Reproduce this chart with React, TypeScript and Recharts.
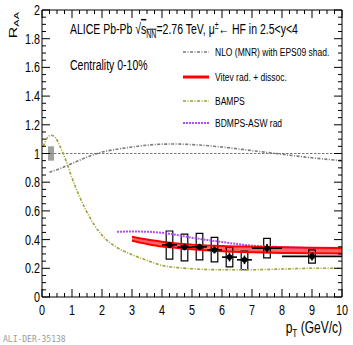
import React from 'react';
import {
  ComposedChart,
  Line,
  Area,
  Scatter,
  ErrorBar,
  XAxis,
  YAxis,
  ReferenceArea,
  ReferenceLine,
} from 'recharts';

// data
const xMajorTicks = [0, 1, 2, 3, 4, 5, 6, 7, 8, 9, 10];
const yMajorTicks = [0, 0.2, 0.4, 0.6, 0.8, 1, 1.2, 1.4, 1.6, 1.8, 2];

const dataPt = [4.25, 4.75, 5.25, 5.75, 6.25, 6.75, 7.5, 9];
const dataRaa = [0.363, 0.347, 0.349, 0.328, 0.278, 0.259, 0.34, 0.283];
const dataPtErr = [0.25, 0.25, 0.25, 0.25, 0.25, 0.25, 0.5, 1];
const dataStatErr = [0.02, 0.022, 0.022, 0.025, 0.03, 0.03, 0.03, 0.028];
const dataSysLow = [0.264, 0.252, 0.259, 0.245, 0.21, 0.19, 0.273, 0.236];
const dataSysHigh = [0.46, 0.438, 0.444, 0.415, 0.347, 0.32, 0.408, 0.328];

const normPt = 0.3;
const normLow = 0.95;
const normHigh = 1.05;

const nloPt = [0.25, 0.6, 1.0, 1.5, 2.0, 2.5, 3.0, 3.5, 4.0, 4.5, 5.0, 6.0, 7.0, 8.0, 9.0, 10];
const nloRaa = [0.87, 0.895, 0.93, 0.975, 1.01, 1.03, 1.045, 1.058, 1.065, 1.066, 1.062, 1.045, 1.02, 0.995, 0.97, 0.95];

const bampsPt = [0.05, 0.15, 0.3, 0.45, 0.6, 0.8, 1.0, 1.25, 1.5, 1.75, 2.0, 2.5, 3.0, 3.5, 4.0, 4.5, 5, 6, 7, 8, 9, 10];
const bampsRaa = [1.05, 1.1, 1.127, 1.11, 1.05, 0.95, 0.83, 0.7, 0.59, 0.5, 0.43, 0.345, 0.295, 0.255, 0.22, 0.205, 0.197, 0.19, 0.19, 0.195, 0.2, 0.2];

const bdmpsPt = [2.5, 3, 3.5, 4, 4.5, 5, 5.5, 6, 7, 8, 9, 10];
const bdmpsRaa = [0.455, 0.456, 0.455, 0.447, 0.432, 0.413, 0.398, 0.383, 0.358, 0.348, 0.34, 0.333];

const vitevPt = [3, 3.5, 4, 4.5, 5, 6, 7, 8, 9, 10];
const vitevLow = [0.392, 0.37, 0.352, 0.342, 0.333, 0.318, 0.311, 0.307, 0.305, 0.304];
const vitevHigh = [0.42, 0.4, 0.385, 0.373, 0.365, 0.355, 0.35, 0.346, 0.343, 0.341];

// series tables
const toXY = (xs: number[], ys: number[]) => xs.map((x, i) => ({ x, y: ys[i] }));
const nloData = toXY(nloPt, nloRaa);
const bampsData = toXY(bampsPt, bampsRaa);
const bdmpsData = toXY(bdmpsPt, bdmpsRaa);
const vitevData = vitevPt.map((x, i) => ({
  x,
  lo: vitevLow[i],
  hi: vitevHigh[i],
  range: [vitevLow[i], vitevHigh[i]],
}));
const pointData = dataPt.map((x, i) => ({
  x,
  y: dataRaa[i],
  ex: dataPtErr[i],
  ey: dataStatErr[i],
}));

const SYS_HALF = 0.11;

// tick lists with ROOT-like minor divisions
const subdivide = (majors: number[], n: number) => {
  const out: number[] = [];
  for (let i = 0; i < majors.length - 1; i++) {
    const step = (majors[i + 1] - majors[i]) / n;
    for (let k = 0; k < n; k++) out.push(+(majors[i] + k * step).toFixed(4));
  }
  out.push(majors[majors.length - 1]);
  return out;
};
const xTicks = subdivide(xMajorTicks, 4);
const yTicks = subdivide(yMajorTicks, 4);

const FONT = '"Liberation Sans", Arial, Helvetica, sans-serif';
const isMajor = (v: number, list: number[]) => list.some((m) => Math.abs(m - v) < 1e-6);
const fmt = (v: number) => String(Number(v.toFixed(2)));

const SText = ({ x, y, size, anchor = 'start', sx = 0.72, fill = '#000', children }: any) => (
  <text
    transform={`translate(${x},${y}) scale(${sx},1)`}
    fontSize={size}
    textAnchor={anchor}
    fontFamily={FONT}
    fill={fill}
  >
    {children}
  </text>
);

const BottomTick = (p: any) => {
  const v = p.payload.value;
  const major = isMajor(v, xMajorTicks);
  return (
    <g>
      <line x1={p.x} x2={p.x} y1={p.y} y2={p.y - (major ? 8 : 4)} stroke="#000" />
      {major && (
        <SText x={p.x} y={p.y + 18} size={15} anchor="middle">
          {fmt(v)}
        </SText>
      )}
    </g>
  );
};

const TopTick = (p: any) => {
  const major = isMajor(p.payload.value, xMajorTicks);
  return <line x1={p.x} x2={p.x} y1={p.y} y2={p.y + (major ? 8 : 4)} stroke="#000" />;
};

const LeftTick = (p: any) => {
  const v = p.payload.value;
  const major = isMajor(v, yMajorTicks);
  return (
    <g>
      <line x1={p.x} x2={p.x + (major ? 8 : 4)} y1={p.y} y2={p.y} stroke="#000" />
      {major && (
        <SText x={p.x - 2} y={p.y + 5} size={15} anchor="end">
          {fmt(v)}
        </SText>
      )}
    </g>
  );
};

const RightTick = (p: any) => {
  const major = isMajor(p.payload.value, yMajorTicks);
  return <line x1={p.x} x2={p.x - (major ? 8 : 4)} y1={p.y} y2={p.y} stroke="#000" />;
};

const NLO_COLOR = '#7a7a7a';
const BAMPS_COLOR = '#a0a030';
const BDMPS_COLOR = '#b24cff';
const VITEV_COLOR = '#ff0000';

const legendRows = [
  { label: 'NLO (MNR) with EPS09 shad.', color: NLO_COLOR, dash: '3 1.5 1 1.5', width: 1.5, y: 52 },
  { label: 'Vitev rad. + dissoc.', color: VITEV_COLOR, dash: undefined, width: 3, y: 77 },
  { label: 'BAMPS', color: BAMPS_COLOR, dash: '3 1.5 1 1.5', width: 1.5, y: 101 },
  { label: 'BDMPS-ASW rad', color: BDMPS_COLOR, dash: '2 1', width: 2, y: 123 },
];

const Overlay = () => (
  <svg
    width={353}
    height={345}
    style={{ position: 'absolute', left: 0, top: 0, pointerEvents: 'none' }}
  >
    {/* header */}
    <text transform="translate(70,34) scale(0.7,1)" fontSize={15} fontFamily={FONT} fill="#000">
      ALICE Pb-Pb √
      <tspan style={{ textDecoration: 'overline' }}>s</tspan>
      <tspan fontSize={10} dy={4} style={{ textDecoration: 'overline' }}>NN</tspan>
      <tspan dy={-4}>=2.76 TeV, μ</tspan>
      <tspan fontSize={10} dy={-5}>±</tspan>
      <tspan dy={5}>← HF in 2.5&lt;y&lt;4</tspan>
    </text>
    <SText x={70} y={70} size={15} sx={0.7}>
      Centrality 0-10%
    </SText>

    {/* legend */}
    {legendRows.map((r) => (
      <g key={r.label}>
        <line
          x1={183}
          x2={209}
          y1={r.y}
          y2={r.y}
          stroke={r.color}
          strokeWidth={r.width}
          strokeDasharray={r.dash}
        />
        <SText x={215} y={r.y + 4} size={11.5} sx={0.74}>
          {r.label}
        </SText>
      </g>
    ))}

    {/* axis titles */}
    <text
      transform="translate(17,12) rotate(-90) scale(1,0.72)"
      fontSize={16}
      textAnchor="end"
      fontFamily={FONT}
      fill="#000"
    >
      R<tspan fontSize={11} dy={3}>AA</tspan>
    </text>
    <text transform="translate(342,333) scale(0.75,1)" fontSize={16} textAnchor="end" fontFamily={FONT} fill="#000">
      p<tspan fontSize={11} dy={4}>T</tspan>
      <tspan dy={-4}> (GeV/c)</tspan>
    </text>

    <text
      x={3}
      y={342}
      fontSize={8}
      fontFamily='"DejaVu Sans Mono", "Liberation Mono", monospace'
      fill="#9a9a9a"
    >
      ALI-DER-35138
    </text>
  </svg>
);

export default function App() {
  return (
    <div style={{ position: 'absolute', left: 0, top: 0, width: 353, height: 345, background: '#fff' }}>
      <ComposedChart width={353} height={345} margin={{ top: 9, right: 10, bottom: 47, left: 41 }}>
        <XAxis
          type="number"
          dataKey="x"
          domain={[0, 10]}
          ticks={xTicks}
          interval={0}
          allowDataOverflow
          height={1}
          tickSize={0}
          tickMargin={0}
          tickLine={false}
          tick={(p: any) => <BottomTick {...p} />}
          axisLine={{ stroke: '#000' }}
        />
        <XAxis
          xAxisId="top"
          orientation="top"
          type="number"
          dataKey="x"
          domain={[0, 10]}
          ticks={xTicks}
          interval={0}
          allowDataOverflow
          height={1}
          tickSize={0}
          tickMargin={0}
          tickLine={false}
          tick={(p: any) => <TopTick {...p} />}
          axisLine={{ stroke: '#000' }}
        />
        <YAxis
          type="number"
          domain={[0, 2]}
          ticks={yTicks}
          interval={0}
          allowDataOverflow
          width={1}
          tickSize={0}
          tickMargin={0}
          tickLine={false}
          tick={(p: any) => <LeftTick {...p} />}
          axisLine={{ stroke: '#000' }}
        />
        <YAxis
          yAxisId="right"
          orientation="right"
          type="number"
          domain={[0, 2]}
          ticks={yTicks}
          interval={0}
          allowDataOverflow
          width={1}
          tickSize={0}
          tickMargin={0}
          tickLine={false}
          tick={(p: any) => <RightTick {...p} />}
          axisLine={{ stroke: '#000' }}
        />

        <ReferenceLine y={1} stroke="#777" strokeDasharray="2.5 1.5" strokeWidth={1} />
        <ReferenceArea
          x1={normPt - 0.1}
          x2={normPt + 0.1}
          y1={normLow}
          y2={normHigh}
          fill="#a0a0a0"
          fillOpacity={1}
          stroke="none"
        />

        <Line
          data={nloData}
          dataKey="y"
          type="monotone"
          stroke={NLO_COLOR}
          strokeWidth={1.6}
          strokeDasharray="3 1.5 1 1.5"
          dot={false}
          activeDot={false}
          isAnimationActive={false}
        />
        <Line
          data={bampsData}
          dataKey="y"
          type="monotone"
          stroke={BAMPS_COLOR}
          strokeWidth={1.6}
          strokeDasharray="3 1.5 1 1.5"
          dot={false}
          activeDot={false}
          isAnimationActive={false}
        />
        <Line
          data={bdmpsData}
          dataKey="y"
          type="monotone"
          stroke={BDMPS_COLOR}
          strokeWidth={2}
          strokeDasharray="2 1"
          dot={false}
          activeDot={false}
          isAnimationActive={false}
        />
        <Area
          data={vitevData}
          dataKey="range"
          type="monotone"
          fill={VITEV_COLOR}
          fillOpacity={0.6}
          stroke="none"
          activeDot={false}
          isAnimationActive={false}
        />
        <Line
          data={vitevData}
          dataKey="hi"
          type="monotone"
          stroke={VITEV_COLOR}
          strokeWidth={2}
          dot={false}
          activeDot={false}
          isAnimationActive={false}
        />
        <Line
          data={vitevData}
          dataKey="lo"
          type="monotone"
          stroke={VITEV_COLOR}
          strokeWidth={2}
          dot={false}
          activeDot={false}
          isAnimationActive={false}
        />

        {dataPt.map((pt, i) => (
          <ReferenceArea
            key={pt}
            x1={pt - SYS_HALF}
            x2={pt + SYS_HALF}
            y1={dataSysLow[i]}
            y2={dataSysHigh[i]}
            fill="none"
            fillOpacity={0}
            stroke="#000"
            strokeWidth={1.2}
          />
        ))}

        <Scatter
          data={pointData}
          dataKey="y"
          fill="#000"
          isAnimationActive={false}
          shape={(p: any) => <circle cx={p.cx} cy={p.cy} r={2.8} fill="#000" />}
        >
          <ErrorBar dataKey="ex" direction="x" width={0} stroke="#000" strokeWidth={1.6} />
          <ErrorBar dataKey="ey" direction="y" width={0} stroke="#000" strokeWidth={1.6} />
        </Scatter>
      </ComposedChart>
      <Overlay />
    </div>
  );
}
